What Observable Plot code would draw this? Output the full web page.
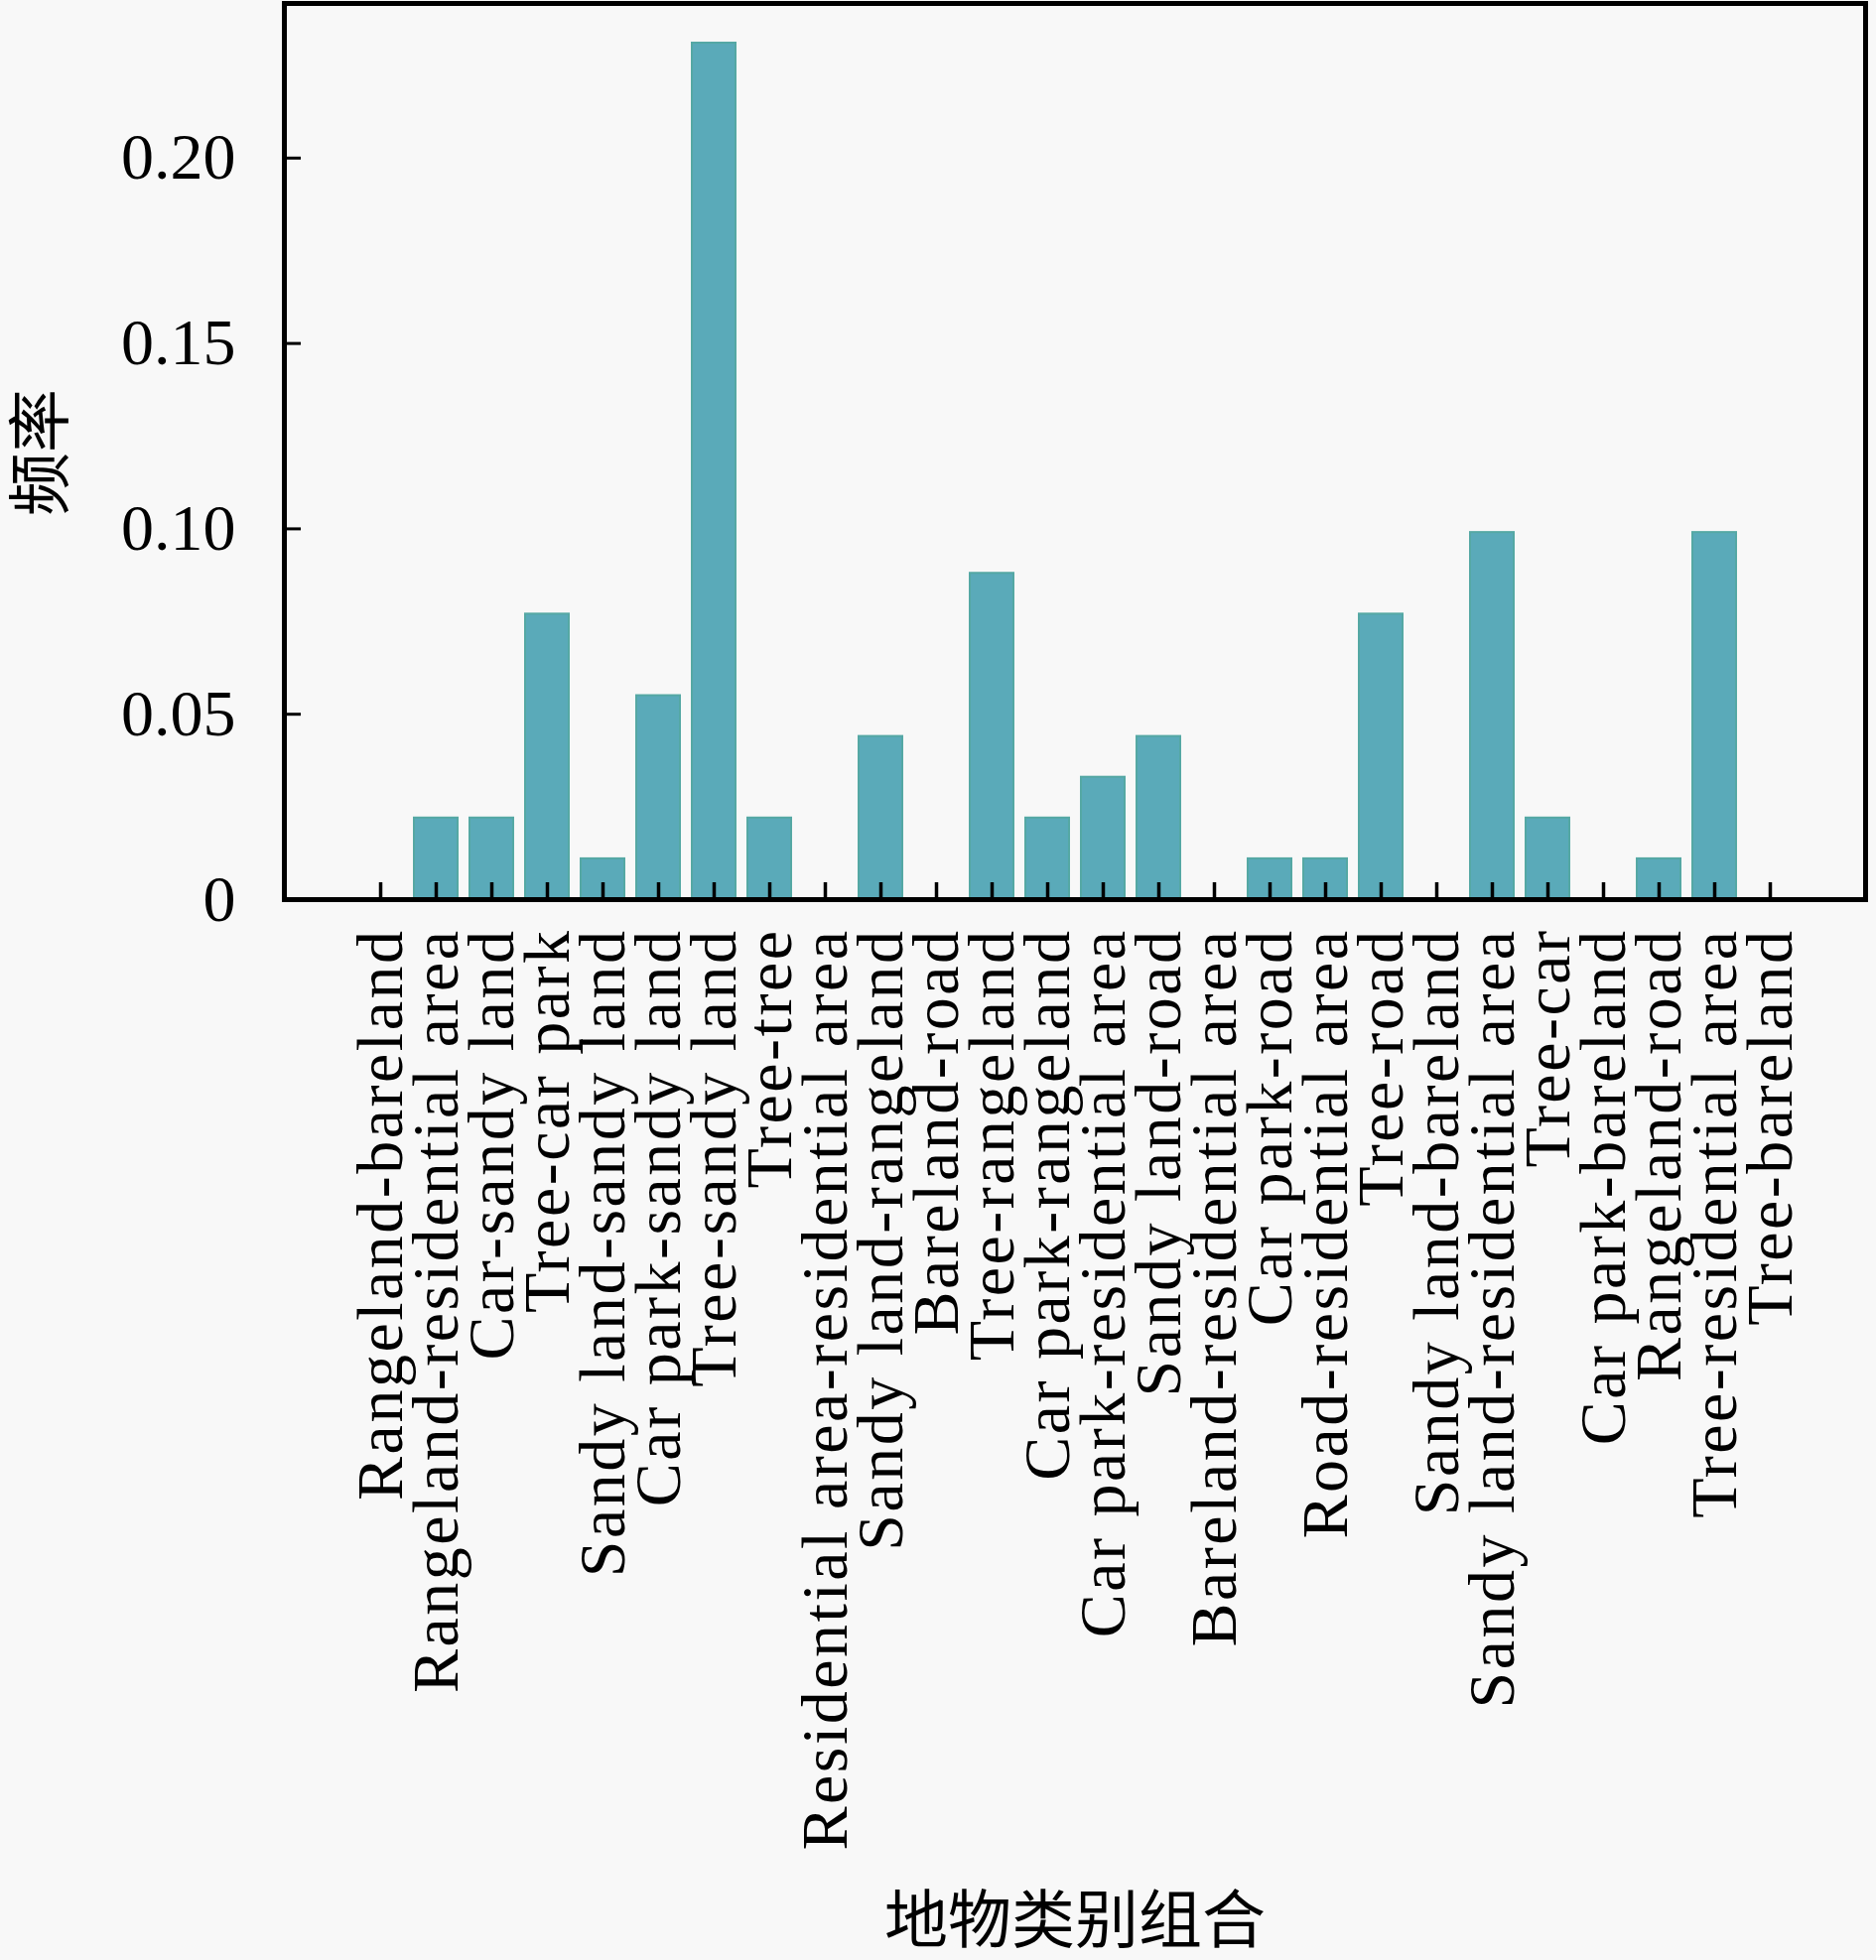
<!DOCTYPE html>
<html>
<head>
<meta charset="utf-8">
<script src="https://cdn.jsdelivr.net/npm/d3@7"></script>
<script src="https://cdn.jsdelivr.net/npm/@observablehq/plot@0.6"></script>
<style>
  html, body { margin: 0; padding: 0; background: #f8f8f8; }
</style>
</head>
<body>
<div id="chart"></div>
<script>
const categories = [
  "Rangeland-bareland", "Rangeland-residential area", "Car-sandy land", "Tree-car park",
  "Sandy land-sandy land", "Car park-sandy land", "Tree-sandy land", "Tree-tree",
  "Residential area-residential area", "Sandy land-rangeland", "Bareland-road", "Tree-rangeland",
  "Car park-rangeland", "Car park-residential area", "Sandy land-road", "Bareland-residential area",
  "Car park-road", "Road-residential area", "Tree-road", "Sandy land-bareland",
  "Sandy land-residential area", "Tree-car", "Car park-bareland", "Rangeland-road",
  "Tree-residential area", "Tree-bareland"
];
const frequencies = [
  0, 0.022, 0.022, 0.077,
  0.011, 0.055, 0.231, 0.022,
  0, 0.044, 0, 0.088,
  0.022, 0.033, 0.044, 0,
  0.011, 0.011, 0.077, 0,
  0.099, 0.022, 0, 0.011,
  0.099, 0
];
const yTicks = [0, 0.05, 0.10, 0.15, 0.20];
const yTickLabels = ["0", "0.05", "0.10", "0.15", "0.20"];
const xTitle = "地物类别组合";
const yTitle = "频率";

const data = categories.map((c, i) => ({category: c, frequency: frequencies[i]}));

const W = 1890, H = 1975, mL = 286, mR = 11, mT = 3, mB = 1069;
const plotW = W - mL - mR, plotH = H - mT - mB;

const chart = Plot.plot({
  width: W, height: H,
  marginLeft: mL, marginRight: mR, marginTop: mT, marginBottom: mB,
  style: {fontFamily: "'Liberation Serif', serif", background: "#f8f8f8", color: "black"},
  x: {type: "band", domain: categories, paddingInner: 0.22, paddingOuter: 1.3, label: null},
  y: {domain: [0, 0.2417], label: null},
  marks: [
    Plot.barY(data, {x: "category", y: "frequency", fill: "#5aaab9", stroke: "#55a8a4", strokeWidth: 2}),
    Plot.ruleX(categories, {x: d => d, insetTop: plotH - 17, stroke: "black", strokeWidth: 3.5}),
    Plot.ruleY(yTicks, {y: d => d, insetRight: plotW - 17, stroke: "black", strokeWidth: 3}),
    Plot.axisX({tickSize: 0, tickPadding: 29, tickRotate: -90, fontSize: 66, label: null}),
    Plot.axisY({ticks: yTicks, tickFormat: d => yTickLabels[yTicks.indexOf(d)], tickSize: 0, tickPadding: 49, fontSize: 66, label: null}),
    Plot.frame({stroke: "black", strokeWidth: 5}),
    Plot.text([yTitle], {frameAnchor: "left", dx: -244, dy: 65, rotate: -90, fontSize: 64, fontFamily: "'Noto Sans CJK SC'", fill: "black"}),
    Plot.text([xTitle], {frameAnchor: "bottom", dy: 1050, fontSize: 64, fontFamily: "'Noto Sans CJK SC'", fill: "black"})
  ]
});

d3.select(chart).selectAll('g[aria-label="x-axis tick label"] text').style("letter-spacing", "2.5px");
document.getElementById("chart").appendChild(chart);
</script>
</body>
</html>
